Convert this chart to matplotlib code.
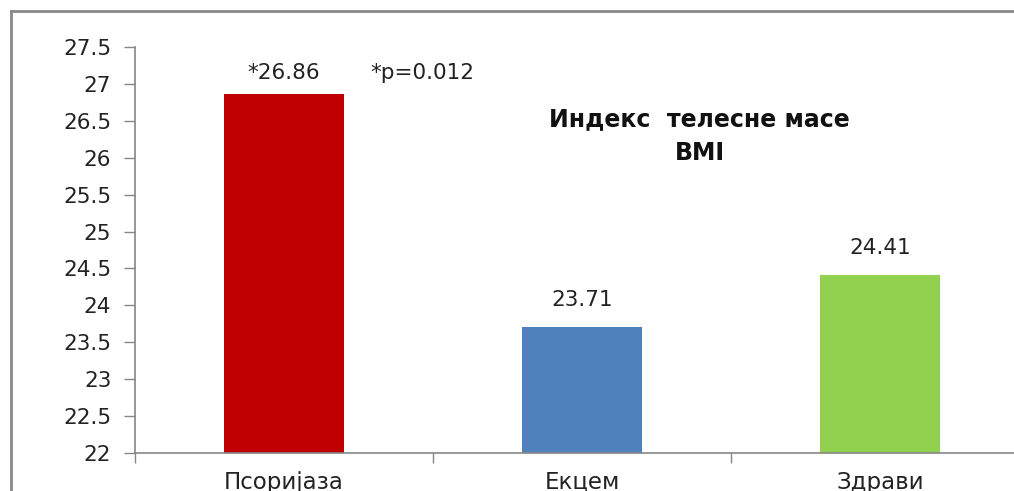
import matplotlib.pyplot as plt
from matplotlib.lines import Line2D

# BMI per group
groups = ['Псоријаза', 'Екцем', 'Здрави']
bmi = [26.86, 23.71, 24.41]
bar_labels = ['*26.86', '23.71', '24.41']
bar_colors = ['#C00000', '#4F81BD', '#92D050']
y_ticks = [22, 22.5, 23, 23.5, 24, 24.5, 25, 25.5, 26, 26.5, 27, 27.5]
y_tick_labels = ['22', '22.5', '23', '23.5', '24', '24.5', '25', '25.5', '26', '26.5', '27', '27.5']

plt.rcParams['font.family'] = ['DejaVu Sans']
axis_grey = '#868686'
txt = '#222222'

fig = plt.figure(figsize=(10.14, 4.91), dpi=100)
ax = fig.add_axes([0.1331, 0.0774, 0.8817, 0.8269])

x = range(len(groups))
# bottom of 22 so bars start at the axis floor
ax.bar(x, [v - 22 for v in bmi], bottom=22, width=0.40, color=bar_colors)

ax.set_xlim(-0.5, 2.5)
ax.set_ylim(22, 27.5)
ax.set_yticks(y_ticks)
ax.set_yticklabels(y_tick_labels, fontsize=15.5, color=txt)
ax.set_xticks(list(x))
ax.set_xticklabels(groups, fontsize=16.5, color=txt)
ax.tick_params(axis='x', length=0, pad=13)
ax.tick_params(axis='y', length=8, width=1, color=axis_grey, pad=9)

# category boundary ticks on x axis
ax.set_xticks([-0.5, 0.5, 1.5, 2.5], minor=True)
ax.tick_params(axis='x', which='minor', length=7, width=1, color=axis_grey, direction='out')

for side in ['top', 'right']:
    ax.spines[side].set_visible(False)
for side in ['left', 'bottom']:
    ax.spines[side].set_color(axis_grey)
    ax.spines[side].set_linewidth(1.2)

offsets = [8, 12, 12]
for i, (v, lab) in enumerate(zip(bmi, bar_labels)):
    ax.annotate(lab, (i, v), xytext=(0, offsets[i]), textcoords='offset points',
                ha='center', va='bottom', fontsize=15.5, color=txt)

fig.text(0.417, 0.851, '*p=0.012', ha='center', va='center', fontsize=15.5, color=txt)
fig.text(0.69, 0.723, 'Индекс  телесне масе\nBMI', ha='center', va='center',
         fontsize=17, fontweight='bold', linespacing=1.5, color='#111111')

# chart frame (left and top edges visible)
fig.add_artist(Line2D([0.0105, 0.0105], [0, 0.978], transform=fig.transFigure, color='#8a8a8a', lw=2))
fig.add_artist(Line2D([0.0105, 1], [0.978, 0.978], transform=fig.transFigure, color='#8a8a8a', lw=2))

fig.savefig('out.png', dpi=100)
